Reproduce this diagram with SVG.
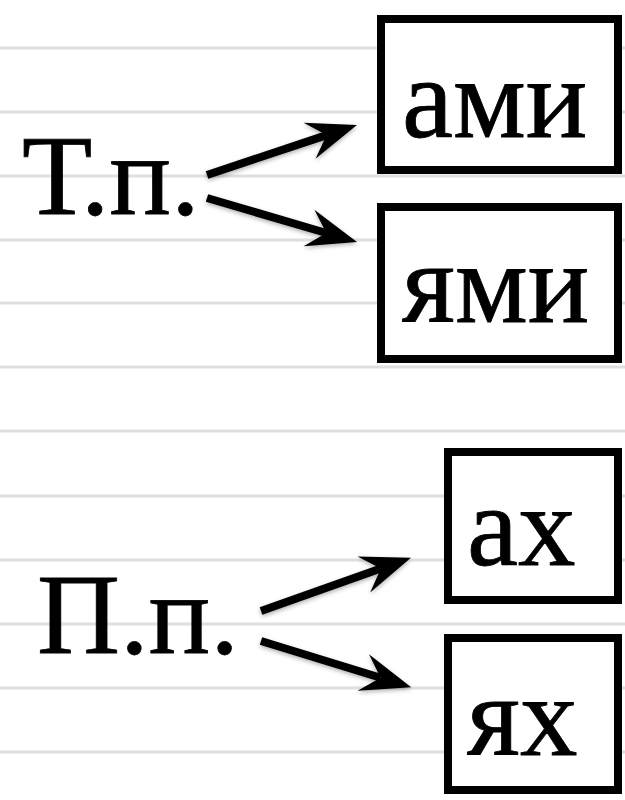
<svg xmlns="http://www.w3.org/2000/svg" width="625" height="800" viewBox="0 0 625 800">
  <style>
    .rule { stroke: #dedee3; stroke-width: 3; }
    .box { fill: #ffffff; stroke: #000000; stroke-width: 8; }
    .lbl { font-family: "Liberation Serif", "Times New Roman", serif; font-size: 115px; fill: #000000; stroke: #000000; stroke-width: 0.8; }
    .shaft { stroke: #000000; stroke-width: 8; fill: none; }
  </style>
  <defs>
    <marker id="head" markerUnits="userSpaceOnUse" markerWidth="52" markerHeight="40" refX="18" refY="20" orient="auto" viewBox="0 0 52 40">
      <path d="M50,20 L0,1 L18,20 L0,39 Z" fill="#000000"/>
    </marker>
    <filter id="sh" x="-20%" y="-20%" width="140%" height="160%">
      <feDropShadow dx="0" dy="2" stdDeviation="2" flood-color="#000000" flood-opacity="0.3"/>
    </filter>
  </defs>
  <rect x="0" y="0" width="625" height="800" fill="#ffffff"/>
  <g id="rules">
    <line class="rule" x1="0" y1="48" x2="625" y2="48"/>
    <line class="rule" x1="0" y1="112" x2="625" y2="112"/>
    <line class="rule" x1="0" y1="176" x2="625" y2="176"/>
    <line class="rule" x1="0" y1="240" x2="625" y2="240"/>
    <line class="rule" x1="0" y1="303" x2="625" y2="303"/>
    <line class="rule" x1="0" y1="367" x2="625" y2="367"/>
    <line class="rule" x1="0" y1="431" x2="625" y2="431"/>
    <line class="rule" x1="0" y1="496" x2="625" y2="496"/>
    <line class="rule" x1="0" y1="560" x2="625" y2="560"/>
    <line class="rule" x1="0" y1="624" x2="625" y2="624"/>
    <line class="rule" x1="0" y1="688" x2="625" y2="688"/>
    <line class="rule" x1="0" y1="752" x2="625" y2="752"/>
  </g>
  <g id="node-tp">
    <text class="lbl" x="22" y="214">Т.п.</text>
  </g>
  <g id="node-pp">
    <text class="lbl" x="37" y="653">П.п.</text>
  </g>
  <g id="node-ami">
    <rect class="box" x="381" y="19" width="237" height="151"/>
    <text class="lbl" x="402" y="137">ами</text>
  </g>
  <g id="node-yami">
    <rect class="box" x="381" y="207" width="237" height="152"/>
    <text class="lbl" x="402" y="322">ями</text>
  </g>
  <g id="node-ah">
    <rect class="box" x="448" y="452" width="170" height="148"/>
    <text class="lbl" x="467" y="565">ах</text>
  </g>
  <g id="node-yah">
    <rect class="box" x="448" y="638" width="170" height="152"/>
    <text class="lbl" x="467" y="755">ях</text>
  </g>
  <g id="connectors" filter="url(#sh)">
    <line class="shaft" x1="207" y1="175" x2="326.6" y2="135.1" marker-end="url(#head)"/>
    <line class="shaft" x1="207" y1="198" x2="326.3" y2="233" marker-end="url(#head)"/>
    <line class="shaft" x1="261" y1="611" x2="380.8" y2="568.5" marker-end="url(#head)"/>
    <line class="shaft" x1="261" y1="641" x2="380.6" y2="677.8" marker-end="url(#head)"/>
  </g>
</svg>
